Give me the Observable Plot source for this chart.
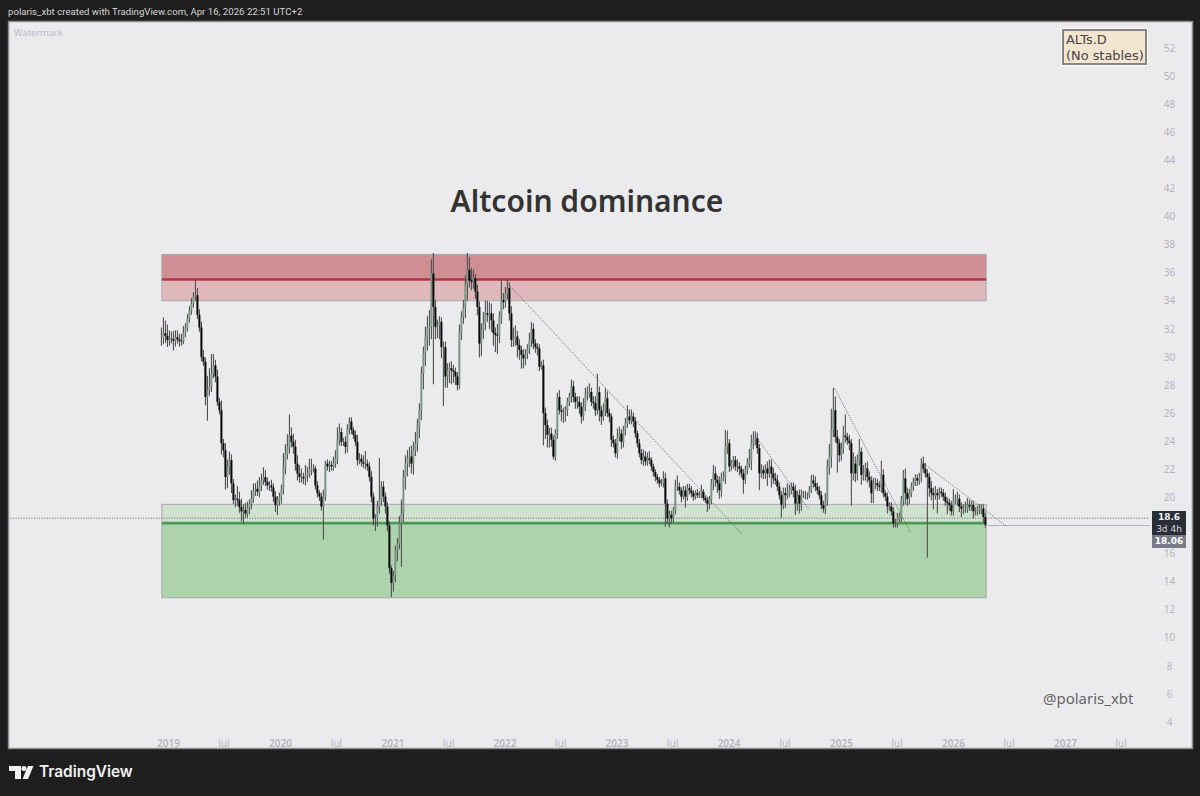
<!DOCTYPE html>
<html>
<head>
<meta charset="utf-8">
<script src="https://cdn.jsdelivr.net/npm/d3@7"></script>
<script src="https://cdn.jsdelivr.net/npm/@observablehq/plot@0.6"></script>
<style>
html,body{margin:0;padding:0;background:#1e1e1e;width:1200px;height:796px;overflow:hidden}
#chart{position:absolute;left:0;top:0}
.o{position:absolute;white-space:nowrap;box-sizing:border-box}
</style>
</head>
<body>
<div id="chart"></div>
<div class="o" style="left:8px;top:5px;font:9.6px/13px Roboto;letter-spacing:0.02px;color:#d4d4d4">polaris_xbt created with TradingView.com, Apr 16, 2026 22:51 UTC+2</div>
<div class="o" style="left:14px;top:27px;font:9.3px/11px 'Open Sans';color:#b8b8be">Watermark</div>
<div class="o" style="left:1062px;top:29px;width:85px;height:36px;background:#f4e5d0;border:2px solid #858585;outline:1px solid #fafafa;padding:1px 0 0 2px;font:12.9px/15.5px 'DejaVu Sans';color:#444">ALTs.D<br>(No stables)</div>
<div class="o" style="left:1152px;top:511px;width:34px;height:24px;background:#2a2e39;color:#f0f0f0;text-align:center;font:600 9px/12px 'DejaVu Sans'">18.6<br><span style="font-weight:400;color:#d8d8d8">3d 4h</span></div>
<div class="o" style="left:1152px;top:535px;width:34px;height:13px;background:#787b86;color:#fff;text-align:center;font:600 9px/13px 'DejaVu Sans'">18.06</div>
<svg class="o" style="left:9px;top:766px" width="25" height="13" viewBox="0 0 25 13"><path fill="#f2f2f2" d="M0 0H12V13H6V5H0Z"/><circle fill="#f2f2f2" cx="15" cy="2.6" r="2.5"/><path fill="#f2f2f2" d="M19 0H24.5L19 13H13.5Z"/></svg>
<div class="o" style="left:39px;top:761px;font:600 15.4px/22px Inter;color:#f2f2f2">TradingView</div>
<script>
// Weekly-ish closes (one candle per ~2 px)
const closes = [
31.4,31.7,31.5,31.2,31.3,31.25,31.15,31.4,31.25,31.15,
31.1,31.7,32.1,32.75,33.3,33.8,34.3,34.4,33.0,32.1,
30.0,29.65,27.15,27.65,27.9,28.8,29.4,28.6,26.8,26.2,
23.85,23.35,21.45,22.2,22.65,21.0,19.8,19.9,19.8,19.3,
19.0,19.1,18.85,19.3,19.55,19.9,20.5,20.6,20.4,20.85,
21.2,21.45,21.1,20.85,20.85,20.7,20.05,19.45,19.8,20.05,
20.6,22.15,23.1,23.6,24.4,23.95,23.6,22.4,21.7,21.45,
21.45,21.35,21.6,21.7,21.95,22.05,22.05,20.85,20.3,20.05,
19.35,20.05,22.4,22.2,22.3,22.2,22.4,22.75,24.1,24.65,
23.95,23.95,23.6,24.9,25.4,24.8,24.45,23.95,22.65,22.75,
22.5,22.4,22.4,22.2,21.45,20.05,18.5,18.5,19.35,19.8,
20.75,20.05,19.35,18.0,14.95,13.9,14.45,16.25,16.7,18.15,
18.85,21.45,22.4,22.75,22.9,22.4,23.35,23.85,25.0,26.2,
28.8,30.25,31.45,32.0,32.15,35.95,33.55,32.15,32.25,32.5,
30.7,30.7,28.6,29.05,29.2,29.05,28.95,28.6,28.0,31.7,
32.85,33.55,35.2,36.2,35.45,35.35,35.6,34.65,33.55,30.95,
31.9,32.4,33.1,33.0,33.1,32.6,31.7,31.55,31.5,32.85,
34.05,33.9,34.5,34.9,33.1,31.2,31.3,31.45,30.85,30.5,
30.15,29.9,30.25,30.6,31.2,32.0,30.95,30.7,30.6,29.3,
29.4,26.0,25.15,24.45,24.55,24.1,22.9,24.55,27.15,26.2,
26.1,26.1,26.2,26.8,27.15,27.9,27.15,26.8,26.8,26.45,
25.75,26.45,27.3,27.4,27.5,26.8,26.7,26.2,27.5,26.2,
25.75,26.2,27.05,26.0,25.75,24.1,23.85,23.15,24.3,24.55,
23.95,24.8,25.25,25.75,25.5,25.75,25.4,24.55,23.85,23.15,
22.65,22.9,22.55,22.8,22.65,22.2,21.8,21.45,21.25,21.0,
21.0,21.35,19.55,18.5,18.75,18.5,19.1,20.75,20.75,20.5,
20.05,20.5,20.05,20.65,20.5,20.3,20.05,20.3,20.15,20.15,
20.4,19.95,19.8,19.55,19.8,21.0,21.7,21.25,21.0,20.5,
21.35,21.45,23.6,23.85,22.2,22.45,22.65,22.2,22.2,22.05,
21.7,21.25,21.95,22.4,22.65,23.85,24.1,24.2,23.5,21.7,
21.95,21.7,22.05,21.7,22.2,21.7,21.35,21.2,20.75,20.15,
19.45,20.3,20.15,20.3,20.5,20.75,20.5,19.55,20.15,19.55,
20.15,20.15,20.15,20.15,20.5,21.2,21.0,20.75,20.5,20.15,
19.45,19.2,19.8,22.2,22.9,24.8,26.2,24.3,23.85,23.0,
23.5,24.4,24.3,24.05,23.85,21.7,22.4,21.7,22.65,23.25,
21.6,21.7,22.05,21.45,21.2,20.3,21.0,21.0,20.85,20.75,
21.6,20.3,20.05,19.35,19.35,19.0,18.15,18.15,18.5,18.6,
19.8,21.35,20.3,19.9,20.3,20.75,21.1,21.35,21.2,21.45,
22.4,22.05,21.7,21.45,20.65,20.3,20.15,20.3,20.15,20.4,
20.3,20.05,19.7,19.6,19.45,19.0,19.8,19.8,19.9,19.35,
19.2,19.2,19.2,19.45,19.35,19.45,19.0,19.0,19.1,19.1,
19.2,18.6,18.06];
const upperWicks = [
.7,1.1,.9,.8,.6,.5,.6,.5,.5,.4,
.5,.5,.3,.3,.3,.4,.3,1.1,.5,.4,
.4,.5,.3,1.0,1.3,1.4,.8,.4,.5,.3,
.7,.3,.5,.5,.6,.4,.3,.3,.9,.6,
.6,.4,.5,.4,.3,.6,.5,.4,.6,.6,
.5,.7,.5,.3,.3,.4,.3,.4,.3,.3,
.3,1.0,.7,.9,1.5,.6,.6,.5,.6,.6,
.6,.3,.7,.5,.8,.7,.3,.2,.3,.2,
.3,.5,.2,.3,.3,.3,.5,.6,.9,.6,
.3,.3,.4,.3,.3,.3,.2,.3,.5,.4,
.3,.5,.9,.3,.3,.4,.3,.3,.4,3.0,
.4,.4,.3,.3,.3,.2,.3,.3,.4,.5,
1.0,.5,.6,.6,.7,.8,.6,.8,.6,.5,
.5,.5,.7,.9,1.2,1.0,1.45,.5,.4,.4,
.3,.4,.4,.5,.4,.5,.4,.3,.3,.6,
.4,.5,.6,1.2,.9,.9,.6,.3,.5,.4,
.5,.8,.9,.9,.8,.7,.5,.4,.8,.4,
1.4,.5,.5,.6,.4,.5,.8,.8,.4,.4,
.3,.4,.3,.3,.5,.5,.4,.3,.3,.3,
.3,.4,.4,.4,.4,.4,.3,.3,.3,.5,
.4,.3,.3,.3,.3,.5,.4,.3,.4,.4,
.3,.6,.5,.5,.6,.3,.4,.5,1.3,.4,
.3,.5,.7,.5,.3,.2,.3,.3,.6,.5,
.3,.3,.4,.8,.5,.5,.3,.3,.2,.3,
.3,.5,.4,.4,.5,.2,.2,.2,.2,.2,
.3,.5,.4,.3,.3,.3,.2,.5,.8,.3,
.2,.3,.3,.3,.3,.3,.2,.2,.3,.3,
.5,.2,.2,.2,.3,.3,.6,.5,.3,.5,
.4,.4,1.2,.9,.3,.2,.3,.3,.5,.3,
.2,.3,.3,.4,.8,.6,.6,.5,.4,.3,
.4,.3,.3,.5,.5,.5,.4,.4,.4,.3,
.3,.4,.4,.7,.4,.3,.3,.4,.3,.4,
.4,.3,.3,.2,.3,.4,.4,.5,.3,.3,
.3,.3,.5,.5,.9,1.5,1.6,1.0,.5,.3,
.4,.7,1.5,.3,.4,.3,.8,.5,.4,.9,
.3,.6,.4,.5,.4,.3,.4,.4,.3,.3,
1.0,.4,.2,.3,.3,.3,.3,.3,.4,.3,
.3,.6,.7,.4,.3,.3,.3,.3,.3,.3,
.4,.5,.4,.3,.3,.5,.4,.5,.3,.3,
.3,.3,.3,.3,.3,.3,.8,.4,.5,.3,
.3,.3,.5,.5,.4,.3,.3,.3,.3,.4,
.3,.3,.3];
const lowerWicks = [
.6,.5,.5,.5,.4,.3,.7,.4,.3,.4,
.3,.2,.3,.3,.3,.3,.3,.3,.3,.3,
.3,.3,.6,1.7,.4,.4,.3,.4,.3,.3,
.8,.5,.9,.8,.6,.7,.3,.5,.4,.4,
.7,.9,.3,.3,.5,.4,.3,.4,.3,.4,
.4,.3,.3,.3,.4,.3,.4,.5,.7,.4,
.5,.4,.5,.4,.5,.4,.5,.5,.5,.4,
.4,.4,.5,.5,.3,.4,.3,.3,.3,.3,
.3,2.35,.3,.3,.4,.3,.3,.3,.4,.4,
.3,.3,.5,.4,.4,.3,.3,.3,.4,.3,
.3,.3,.4,.3,.3,.4,.5,.9,.6,.5,
.4,.4,.5,.4,.4,1.0,.6,.5,.8,.4,
3.1,.6,.9,.9,.6,.7,.8,.4,.6,.8,
.7,1.1,.9,1.0,1.2,.9,5.5,.9,.8,1.0,
.8,4.2,.8,.8,.9,1.0,.8,.6,.4,.3,
.5,.5,.8,1.2,.5,.6,.5,.5,.6,1.0,
.9,.6,.5,.5,1.0,.8,.9,1.2,1.3,.5,
.5,.5,.4,.4,.5,.5,.5,.5,.9,.7,
1.0,.7,.5,.4,.4,.5,.4,.4,.5,.3,
.2,2.3,1.0,.9,.9,.5,.2,.3,.4,.3,
.7,.8,.7,.4,.3,.4,.4,.5,.5,.5,
.5,.3,.3,.4,.3,.3,.4,.4,.3,.8,
.6,.3,.4,.3,.4,.5,.3,.3,.4,.3,
.5,.4,.4,.3,.3,.3,.4,.3,.3,.3,
.3,.4,.3,.3,.3,.3,.3,.3,.3,.3,
.2,.3,1.65,.4,.65,.4,.3,.3,.3,.3,
.4,.2,.8,.3,.3,.3,.3,.2,.2,.2,
.2,.2,.2,.6,.4,.3,.5,.5,.7,.6,
.5,.2,.5,.5,.4,.3,.4,.3,.4,.5,
.3,1.0,.3,.3,.3,.7,.4,.4,.4,1.2,
.3,.4,.4,.9,.3,1.0,.4,.3,.3,.3,
.9,.3,.9,.3,.3,.3,.5,.8,.5,.7,
.5,.2,.3,.3,.2,.2,.3,.3,.3,.3,
.3,.3,.4,.4,.6,.8,.5,.4,2.1,.5,
.4,.4,.4,.3,.5,2.3,.5,.6,.5,.4,
.7,.4,.5,.4,.5,.7,.7,.4,.4,.3,
.4,.3,.3,.5,.3,.3,.3,.3,.3,.3,
.4,.4,.8,.5,.4,.3,.3,.3,.4,.3,
.4,.3,.3,5.75,.6,.5,1.0,.3,1.3,.3,
.3,.3,.3,.8,.4,.3,.3,.3,.4,.4,
.6,.4,.3,.3,.3,.3,.5,.3,.3,.3,
.3,.4,.2];

const firstBar = new Date("2018-12-09");
const barStepDays = 6.514;
const yTicks = [4,6,8,10,12,14,16,20,22,24,26,28,30,32,34,36,38,40,42,44,46,48,50,52];
const yearTicks = [2019,2020,2021,2022,2023,2024,2025,2026,2027].map(y => new Date(Date.UTC(y,0,1)));
const julyTicks = [2019,2020,2021,2022,2023,2024,2025,2026,2027].map(y => new Date(Date.UTC(y,6,1)));

const zoneStart = new Date("2018-12-12"), zoneEnd = new Date("2026-04-19");
// zones: [bottom, top, fill]
const zones = [
  [35.55, 37.3, "#cf8e93"], [34.0, 35.55, "#dfb8bc"],
  [18.2, 19.5, "#cfe2cf"], [12.85, 18.2, "#acd3ac"]
];
const levels = [[35.55, "#a83a44"], [18.2, "#4c9a55"]];
const zoneOutline = [[34.0, 37.3], [12.85, 19.5]];
const trendlines = [
  ["2022-01-09", 35.3, "2024-02-13", 17.39],
  ["2024-03-26", 24.44, "2024-09-15", 19.24],
  ["2024-12-10", 27.78, "2025-08-14", 17.53],
  ["2025-09-22", 22.51, "2026-06-24", 17.95]
];
const paneLeft = new Date("2017-08-06"), axisEdge = new Date("2027-10-03");
const countdownPrice = 18.55, lastPrice = 18.03;

const bars = closes.map((c, i) => {
  const o = i ? closes[i-1] : c;
  return {
    date: new Date(+firstBar + i * barStepDays * 864e5),
    open: o, close: c,
    high: Math.max(o, c) + upperWicks[i],
    low: Math.min(o, c) - lowerWicks[i]
  };
});
const ups = bars.filter(b => b.close >= b.open);
const downs = bars.filter(b => b.close < b.open);
const tl = trendlines.map(([a, v1, b, v2]) => ({x1: new Date(a), y1: v1, x2: new Date(b), y2: v2}));
const labelColor = "#b4b4bc";

const plot = Plot.plot({
  width: 1200, height: 796,
  marginLeft: 8, marginRight: 8, marginTop: 21, marginBottom: 48,
  style: {background: "#1e1e1e", fontFamily: "'Noto Sans'"},
  x: {type: "utc", domain: [new Date("2019-01-01"), new Date("2026-01-01")], range: [168, 953]},
  y: {type: "linear", domain: [52, 4], range: [48, 722]},
  marks: [
    Plot.frame({fill: "#ebebed", stroke: "#8c8c8c", strokeWidth: 1.5}),
    Plot.axisY(yTicks, {anchor: "right", tickSize: 0, textAnchor: "middle", dx: -32, label: null, fill: labelColor, fontSize: 10}),
    Plot.axisX(yearTicks, {anchor: "bottom", tickSize: 0, tickFormat: d3.utcFormat("%Y"), dy: -18, label: null, fill: labelColor, fontSize: 10, fontWeight: 600}),
    Plot.axisX(julyTicks, {anchor: "bottom", tickSize: 0, tickFormat: () => "Jul", dy: -18, label: null, fill: labelColor, fontSize: 10}),
    Plot.rect(zones, {x1: () => zoneStart, x2: () => zoneEnd, y1: d => d[0], y2: d => d[1], fill: d => d[2]}),
    Plot.rect(zoneOutline, {x1: () => zoneStart, x2: () => zoneEnd, y1: d => d[0], y2: d => d[1], fill: "none", stroke: "#a9a9ad", strokeWidth: 1}),
    Plot.ruleY([lastPrice], {x1: zoneEnd, x2: axisEdge, stroke: "#b2b5be", strokeWidth: 1.2}),
    Plot.ruleY([countdownPrice], {x1: paneLeft, x2: axisEdge, stroke: "#444", strokeWidth: 0.8, strokeDasharray: "1 1.6"}),
    Plot.ruleY(levels, {y: d => d[0], x1: () => zoneStart, x2: () => zoneEnd, stroke: d => d[1], strokeWidth: 2.6}),
    Plot.link(tl, {x1: "x1", y1: "y1", x2: "x2", y2: "y2", stroke: "#555", strokeWidth: 0.9, strokeDasharray: "1 1.3"}),
    Plot.ruleX(bars, {x: "date", y1: "low", y2: "high", stroke: "#505050", strokeWidth: 1.1}),
    Plot.ruleX(ups, {x: "date", y1: "open", y2: "close", stroke: "#7d9583", strokeWidth: 1.9}),
    Plot.ruleX(downs, {x: "date", y1: "open", y2: "close", stroke: "#050505", strokeWidth: 2}),
    Plot.text(["Altcoin dominance"], {x: () => new Date("2022-09-25"), y: () => 41.05, fontSize: 30, fontWeight: 600, fill: "#333", fontFamily: "'Noto Sans'"}),
    Plot.text(["@polaris_xbt"], {frameAnchor: "bottom-right", dx: -59, dy: -45, fontSize: 15, fill: "#636363", fontFamily: "'Noto Sans'"})
  ]
});
document.getElementById("chart").append(plot);
</script>
</body>
</html>
